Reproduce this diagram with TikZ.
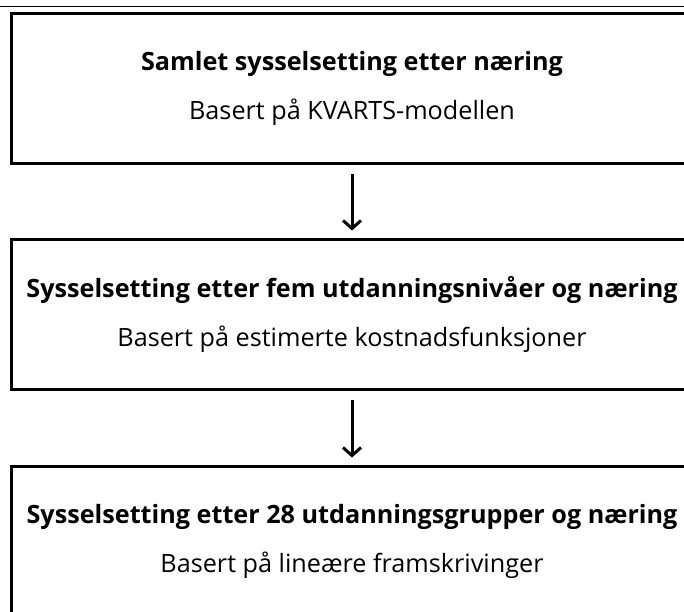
\documentclass[tikz,border=0pt]{standalone}
\usepackage{fontspec}
\setmainfont{Open Sans}
\usetikzlibrary{arrows.meta}

\begin{document}
\begin{tikzpicture}[x=1pt,y=-1pt,
	boks/.style={draw, line width=3pt, minimum width=681pt, minimum height=150pt, inner sep=0pt, align=center, font=\fontsize{25.2}{30}\selectfont},
	pil/.style={line width=3pt, -{Straight Barb[length=8pt,width=18pt]}, shorten <=9pt, shorten >=7pt}]
			% page
			\useasboundingbox (0,0) rectangle (684,611);
			
			% top rule
			\draw[line width=1pt] (0,6.5) -- (684,6.5);
			
			% boxes
			\node[boks] (samlet) at (352,88) {\textbf{Samlet sysselsetting etter næring}\\[19pt]Basert på KVARTS-modellen};
			\node[boks] (fem) at (352,314) {\textbf{Sysselsetting etter fem utdanningsnivåer og næring}\\[19pt]Basert på estimerte kostnadsfunksjoner};
			\node[boks] (grupper) at (352,541) {\textbf{Sysselsetting etter 28 utdanningsgrupper og næring}\\[19pt]Basert på lineære framskrivinger};
			
			% arrows
			\draw[pil] (samlet) -- (fem);
			\draw[pil] (fem) -- (grupper);
		\end{tikzpicture}
\end{document}
